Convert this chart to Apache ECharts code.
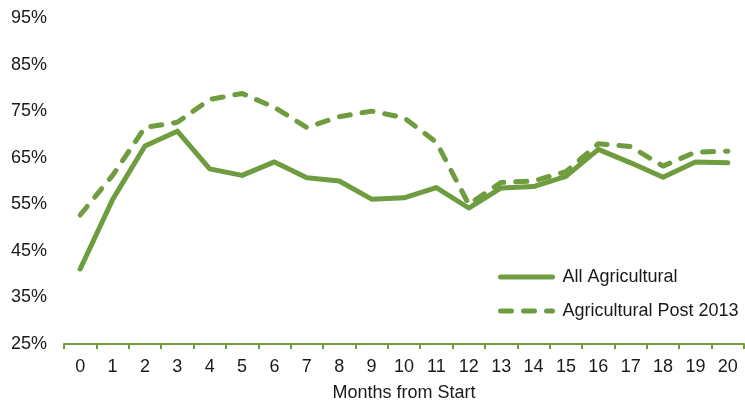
<!DOCTYPE html>
<html>
<head>
<meta charset="utf-8">
<script src="https://cdn.jsdelivr.net/npm/echarts@6/dist/echarts.min.js"></script>
<style>
  html, body { margin: 0; padding: 0; background: #ffffff; }
  #chart { width: 745px; height: 402px; }
</style>
</head>
<body>
<div id="chart"></div>
<script>
// Months since start (x categories)
const months = ['0','1','2','3','4','5','6','7','8','9','10','11','12','13','14','15','16','17','18','19','20'];

// Share (%) per month
const allAgricultural = [41.1, 56.0, 67.5, 70.7, 62.6, 61.2, 64.1, 60.7, 60.0, 56.1, 56.4, 58.6, 54.2, 58.5, 58.8, 61.0, 66.8, 63.9, 60.8, 64.1, 63.9];
const agriculturalPost2013 = [52.7, 61.2, 71.5, 72.6, 77.5, 78.8, 75.8, 71.5, 73.8, 75.0, 73.6, 68.3, 55.0, 59.7, 60.0, 62.0, 68.0, 67.4, 63.2, 66.2, 66.4];

const seriesNames = ['All Agricultural', 'Agricultural Post 2013'];

const green = '#6f9c3e';
const textColor = '#1a1a1a';
const fontFamily = 'Liberation Sans, Arial, sans-serif';
const dashPattern = [11, 12];

const chart = echarts.init(document.getElementById('chart'), null, { renderer: 'canvas' });

chart.setOption({
  animation: false,
  backgroundColor: '#ffffff',
  grid: { left: 64, right: 1, top: 18, bottom: 58, containLabel: false, outerBoundsMode: 'none' },
  legend: {
    orient: 'vertical',
    left: 493,
    top: 263,
    itemWidth: 52,
    itemHeight: 18,
    itemGap: 16,
    itemStyle: { opacity: 0 },
    lineStyle: { width: 5, cap: 'round' },
    textStyle: { color: textColor, fontSize: 18, lineHeight: 18, fontFamily: fontFamily, padding: [0, 0, 0, 5] },
    data: seriesNames
  },
  xAxis: {
    type: 'category',
    data: months,
    boundaryGap: true,
    name: 'Months from Start',
    nameLocation: 'middle',
    nameGap: 40,
    nameTextStyle: { color: textColor, fontSize: 18, fontFamily: fontFamily },
    axisLine: { show: true, lineStyle: { color: green, width: 2 } },
    axisTick: { show: true, length: 5, lineStyle: { color: green, width: 2 } },
    axisLabel: { color: textColor, fontSize: 18, fontFamily: fontFamily, margin: 14 },
    splitLine: { show: false }
  },
  yAxis: {
    type: 'value',
    min: 25,
    max: 95,
    interval: 10,
    axisLine: { show: false },
    axisTick: { show: false },
    splitLine: { show: false },
    axisLabel: { formatter: '{value}%', color: textColor, fontSize: 18, fontFamily: fontFamily, margin: 17 }
  },
  series: [
    {
      name: seriesNames[0],
      type: 'line',
      data: allAgricultural,
      symbol: 'none',
      lineStyle: { color: green, width: 5, cap: 'round', join: 'round' },
      itemStyle: { color: green },
      z: 3
    },
    {
      name: seriesNames[1],
      type: 'line',
      data: agriculturalPost2013,
      symbol: 'none',
      lineStyle: { color: green, width: 5, type: dashPattern, cap: 'round', join: 'round' },
      itemStyle: { color: green },
      z: 2
    }
  ]
});
</script>
</body>
</html>
